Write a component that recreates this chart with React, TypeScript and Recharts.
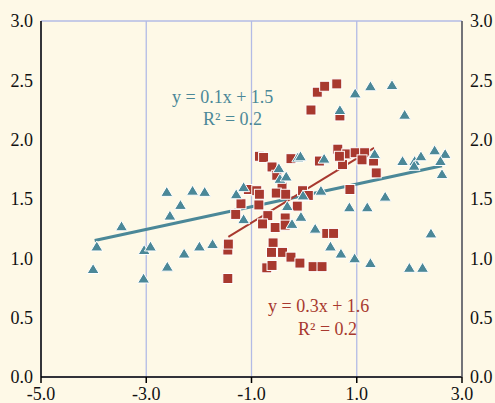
import React from 'react';
import {
  ScatterChart,
  Scatter,
  XAxis,
  YAxis,
  CartesianGrid,
} from 'recharts';

const xTicks = [-5, -3, -1, 1, 3];
const yTicks = [0, 0.5, 1, 1.5, 2, 2.5, 3];

// teal triangles
const triX = [
  -4.01, -3.94, -3.47, -3.05, -3.04, -2.92, -2.6, -2.61, -2.55, -2.35, -2.28, -2.12, -1.89, -1.99,
  -1.74, -1.29, -1.15, -1.15, -0.48, -0.46, -0.34, -0.12, -0.07, -0.32, -0.23, -0.06, -0.02, 0.32,
  0.38, 0.21, 0.5, 0.7, 0.96, 1.26, 0.86, 1.2, 1.54, 0.68, 0.97, 1.26, 1.67, 1.91, 1.34, 1.87, 2.1,
  2.09, 2.22, 2.48, 2.68, 2.59, 2.62, 2.41, 2.0, 2.25,
];
const triY = [
  0.91, 1.1, 1.27, 0.83, 1.07, 1.1, 0.93, 1.56, 1.36, 1.45, 1.04, 1.57, 1.56, 1.1,
  1.12, 1.54, 1.6, 1.33, 1.76, 1.67, 1.69, 1.85, 1.86, 1.44, 1.29, 1.35, 1.53, 1.57,
  1.84, 1.25, 1.1, 1.04, 1.0, 0.96, 1.43, 1.43, 1.52, 2.25, 2.39, 2.45, 2.46, 2.21, 1.88, 1.82, 1.82,
  1.78, 1.86, 1.91, 1.88, 1.82, 1.71, 1.21, 0.92, 0.92,
];

// red squares
const sqX = [
  -1.45, -1.45, -1.44, -1.3, -1.2, -1.06, -0.9, -0.85, -0.86, -0.85, -0.77, -0.61, -0.52, -0.42,
  -0.53, -0.35, -0.69, -0.79, -0.55, -0.36, -0.36, -0.13, -0.03, 0.08, -0.25, 0.29, -0.59, -0.62,
  -0.41, -0.25, -0.08, 0.17, 0.34, -0.71, -0.61, 0.43, 0.56, 0.13, 0.25, 0.39, 0.62, 0.68, 0.64,
  0.81, 0.73, 0.97, 1.15, 1.1, 1.32, 1.37, 0.87, 0.67,
];
const sqY = [
  0.83, 1.07, 1.12, 1.37, 1.46, 1.58, 1.57, 1.54, 1.45, 1.86, 1.85, 1.77, 1.7, 1.6,
  1.55, 1.54, 1.36, 1.29, 1.26, 1.34, 1.28, 1.44, 1.57, 1.53, 1.84, 1.82, 1.13, 1.05,
  1.05, 1.01, 0.96, 0.93, 0.93, 0.92, 0.94, 1.21, 1.21, 2.25, 2.4, 2.45, 2.47, 2.2, 1.92,
  1.88, 1.79, 1.89, 1.89, 1.83, 1.82, 1.72, 1.58, 1.86,
];

// trend line end points
const trendTriX = [-3.98, 2.62];
const trendTriY = [1.15, 1.78];
const trendSqX = [-1.44, 1.33];
const trendSqY = [1.18, 1.93];

const TEAL = '#4b8898';
const RED = '#a8392f';
const GRID = '#b3bbe6';
const BG = '#fef9e7';
const FONT = '"Liberation Serif", "Times New Roman", serif';

const zip = (xs: number[], ys: number[]) => xs.map((x, i) => ({ x, y: ys[i] }));

const triangles = zip(triX, triY);
const squares = zip(sqX, sqY);
const trendTri = zip(trendTriX, trendTriY);
const trendSq = zip(trendSqX, trendSqY);

const Triangle = (props: any) => {
  const { cx, cy } = props;
  return (
    <polygon
      points={`${cx},${cy - 5.5} ${cx + 6},${cy + 4.5} ${cx - 6},${cy + 4.5}`}
      fill={TEAL}
      stroke="#fff"
      strokeWidth={1}
    />
  );
};

const Square = (props: any) => {
  const { cx, cy } = props;
  return <rect x={cx - 5} y={cy - 5} width={10} height={10} fill={RED} stroke="#fff" strokeWidth={1} />;
};

const NoDot = () => <g />;

const tickStyle = { fontSize: 18, fill: '#111', fontFamily: FONT };

export default function App() {
  return (
    <div style={{ position: 'fixed', left: 0, top: 0, width: 495, height: 403, background: BG }}>
      <ScatterChart width={495} height={403} margin={{ top: 21, right: 0, bottom: 0, left: 0 }}>
        <CartesianGrid stroke={GRID} strokeWidth={1.3} />
        <XAxis
          type="number"
          dataKey="x"
          domain={[-5, 3]}
          ticks={xTicks}
          tickFormatter={(v: number) => v.toFixed(1)}
          tick={tickStyle}
          axisLine={{ stroke: '#000', strokeWidth: 1.5 }}
          tickLine={{ stroke: '#000', strokeWidth: 1.5 }}
          tickSize={6}
          tickMargin={4}
          height={26}
          allowDataOverflow
        />
        <YAxis
          yAxisId="left"
          type="number"
          dataKey="y"
          domain={[0, 3]}
          ticks={yTicks}
          tickFormatter={(v: number) => v.toFixed(1)}
          tick={tickStyle}
          axisLine={{ stroke: '#000', strokeWidth: 1.5 }}
          tickLine={false}
          width={41}
          allowDataOverflow
        />
        <YAxis
          yAxisId="right"
          orientation="right"
          type="number"
          dataKey="y"
          domain={[0, 3]}
          ticks={yTicks}
          tickFormatter={(v: number) => v.toFixed(1)}
          tick={tickStyle}
          axisLine={{ stroke: '#555', strokeWidth: 1.5 }}
          tickLine={false}
          width={33}
          allowDataOverflow
        />
        <Scatter
          yAxisId="left"
          data={trendTri}
          line={{ stroke: TEAL, strokeWidth: 3 }}
          shape={NoDot}
          isAnimationActive={false}
        />
        <Scatter
          yAxisId="left"
          data={trendSq}
          line={{ stroke: RED, strokeWidth: 2 }}
          shape={NoDot}
          isAnimationActive={false}
        />
        <Scatter yAxisId="left" data={squares} shape={Square} isAnimationActive={false} />
        <Scatter yAxisId="left" data={triangles} shape={Triangle} isAnimationActive={false} />
        <Scatter yAxisId="right" data={[]} isAnimationActive={false} />
      </ScatterChart>
      <svg
        width={495}
        height={403}
        style={{ position: 'absolute', left: 0, top: 0, pointerEvents: 'none' }}
      >
        <g fontFamily={FONT} fontSize={18}>
          <text x={172} y={103} fill={TEAL}>y = 0.1x + 1.5</text>
          <text x={203} y={125} fill={TEAL}>R² = 0.2</text>
          <text x={268} y={312} fill={RED}>y = 0.3x + 1.6</text>
          <text x={298} y={335} fill={RED}>R² = 0.2</text>
        </g>
      </svg>
    </div>
  );
}
